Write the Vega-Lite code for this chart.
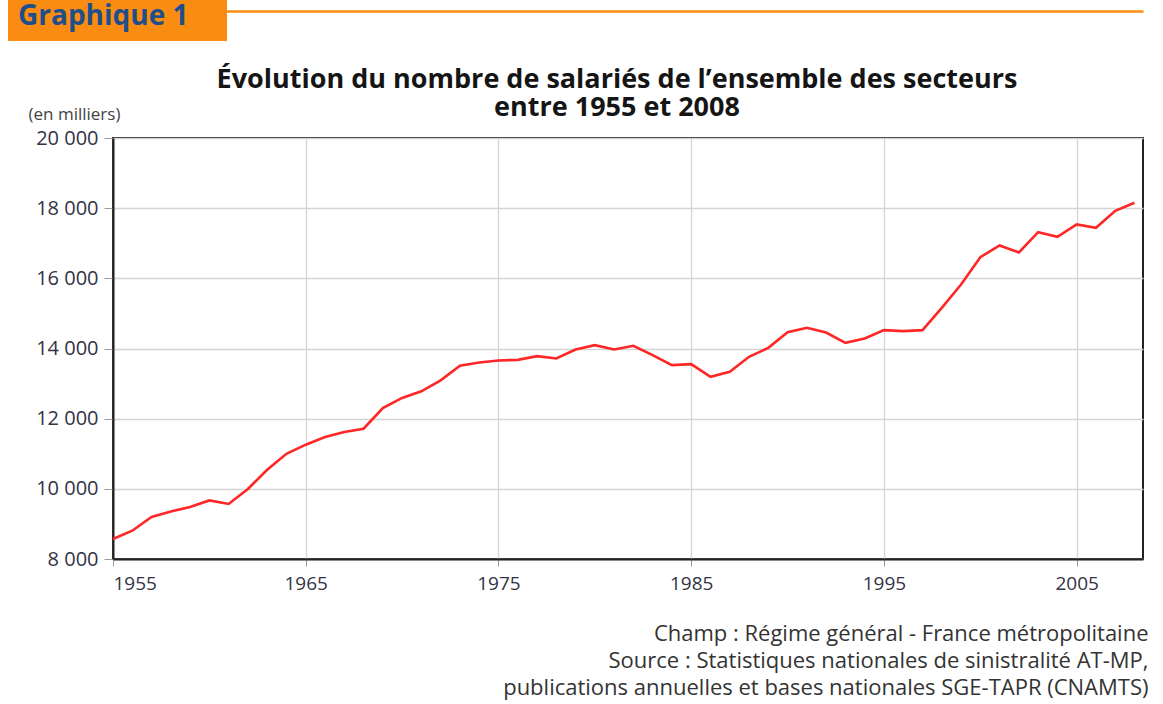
{
  "$schema": "https://vega.github.io/schema/vega-lite/v6.json",
  "width": 1030,
  "height": 421,
  "autosize": {"type": "none"},
  "padding": {"left": 113, "top": 138, "right": 20, "bottom": 145},
  "background": "white",
  "title": {
    "text": ["Évolution du nombre de salariés de l’ensemble des secteurs", "entre 1955 et 2008"],
    "anchor": "middle",
    "frame": "group",
    "font": "Open Sans",
    "fontSize": 27,
    "fontWeight": "bold",
    "color": "#151515",
    "lineHeight": 28,
    "dx": -11,
    "dy": 147
  },
  "data": {
    "values": [
      {"annee": 1955, "salaries": 8570},
      {"annee": 1956, "salaries": 8807},
      {"annee": 1957, "salaries": 9197},
      {"annee": 1958, "salaries": 9357},
      {"annee": 1959, "salaries": 9482},
      {"annee": 1960, "salaries": 9670},
      {"annee": 1961, "salaries": 9568},
      {"annee": 1962, "salaries": 9995},
      {"annee": 1963, "salaries": 10545},
      {"annee": 1964, "salaries": 11000},
      {"annee": 1965, "salaries": 11258},
      {"annee": 1966, "salaries": 11478},
      {"annee": 1967, "salaries": 11620},
      {"annee": 1968, "salaries": 11714},
      {"annee": 1969, "salaries": 12304},
      {"annee": 1970, "salaries": 12590},
      {"annee": 1971, "salaries": 12779},
      {"annee": 1972, "salaries": 13091},
      {"annee": 1973, "salaries": 13507},
      {"annee": 1974, "salaries": 13600},
      {"annee": 1975, "salaries": 13658},
      {"annee": 1976, "salaries": 13677},
      {"annee": 1977, "salaries": 13781},
      {"annee": 1978, "salaries": 13715},
      {"annee": 1979, "salaries": 13972},
      {"annee": 1980, "salaries": 14095},
      {"annee": 1981, "salaries": 13972},
      {"annee": 1982, "salaries": 14076},
      {"annee": 1983, "salaries": 13810},
      {"annee": 1984, "salaries": 13525},
      {"annee": 1985, "salaries": 13553},
      {"annee": 1986, "salaries": 13193},
      {"annee": 1987, "salaries": 13336},
      {"annee": 1988, "salaries": 13763},
      {"annee": 1989, "salaries": 14019},
      {"annee": 1990, "salaries": 14466},
      {"annee": 1991, "salaries": 14590},
      {"annee": 1992, "salaries": 14456},
      {"annee": 1993, "salaries": 14162},
      {"annee": 1994, "salaries": 14285},
      {"annee": 1995, "salaries": 14523},
      {"annee": 1996, "salaries": 14495},
      {"annee": 1997, "salaries": 14523},
      {"annee": 1998, "salaries": 15160},
      {"annee": 1999, "salaries": 15824},
      {"annee": 2000, "salaries": 16603},
      {"annee": 2001, "salaries": 16936},
      {"annee": 2002, "salaries": 16737},
      {"annee": 2003, "salaries": 17316},
      {"annee": 2004, "salaries": 17184},
      {"annee": 2005, "salaries": 17535},
      {"annee": 2006, "salaries": 17440},
      {"annee": 2007, "salaries": 17925},
      {"annee": 2008, "salaries": 18153}
    ]
  },
  "layer": [
    {
      "mark": {"type": "line", "strokeWidth": 2.6},
      "encoding": {
        "x": {
          "field": "annee",
          "type": "quantitative",
          "scale": {"domain": [1955, 2008.44], "nice": false, "zero": false},
          "axis": {
            "values": [1955, 1965, 1975, 1985, 1995, 2005],
            "format": "d",
            "grid": true,
            "gridColor": "#d4d4d4",
            "gridWidth": 1.3,
            "domain": true,
            "domainColor": "#222222",
            "domainWidth": 2,
            "tickColor": "#9a9a9a",
            "tickSize": 7,
            "labelPadding": 8,
            "labelFont": "Open Sans",
            "labelFontSize": 19,
            "labelColor": "#333344",
            "title": [
              "Champ : Régime général - France métropolitaine",
              "Source : Statistiques nationales de sinistralité AT-MP,",
              "publications annuelles et bases nationales SGE-TAPR (CNAMTS)"
            ],
            "titleX": 1035,
            "titleY": 81,
            "titleAlign": "right",
            "titleBaseline": "alphabetic",
            "titleFont": "Open Sans",
            "titleFontSize": 22,
            "titleFontWeight": "normal",
            "titleColor": "#333333",
            "titleLineHeight": 27
          }
        },
        "y": {
          "field": "salaries",
          "type": "quantitative",
          "scale": {"domain": [8000, 20000], "nice": false, "zero": false},
          "axis": {
            "values": [8000, 10000, 12000, 14000, 16000, 18000, 20000],
            "labelExpr": "replace(format(datum.value, ','), ',', ' ')",
            "grid": true,
            "gridColor": "#d4d4d4",
            "gridWidth": 1.3,
            "domain": true,
            "domainColor": "#222222",
            "domainWidth": 2,
            "tickColor": "#9a9a9a",
            "tickSize": 9,
            "labelPadding": 6,
            "labelFont": "Open Sans",
            "labelFontSize": 20,
            "labelColor": "#333344",
            "title": "(en milliers)",
            "titleAngle": 0,
            "titleX": -85,
            "titleY": -19,
            "titleAlign": "left",
            "titleBaseline": "alphabetic",
            "titleFont": "Open Sans",
            "titleFontSize": 17,
            "titleFontWeight": "normal",
            "titleColor": "#444444"
          }
        },
        "color": {
          "datum": "Graphique 1",
          "scale": {"range": ["#ff2626"]},
          "legend": {
            "title": "Graphique 1",
            "titleOrient": "left",
            "titleAlign": "left",
            "titleBaseline": "top",
            "titleFont": "Open Sans",
            "titleFontSize": 28,
            "titleFontWeight": "bold",
            "titleColor": "#1f4f8a",
            "titlePadding": 0,
            "titleLimit": 400,
            "orient": "none",
            "legendX": -105,
            "legendY": -159,
            "fillColor": "#fb8c12",
            "padding": 10,
            "symbolSize": 0,
            "symbolStrokeWidth": 0,
            "symbolOpacity": 0,
            "labelOffset": 0,
            "labelFontSize": 28,
            "labelExpr": "''"
          }
        }
      }
    },
    {
      "mark": {"type": "line", "strokeOpacity": 0},
      "encoding": {
        "x": {
          "field": "annee",
          "type": "quantitative",
          "axis": {
            "orient": "top",
            "domain": true,
            "domainColor": "#fb8c12",
            "domainWidth": 2.5,
            "ticks": false,
            "labels": false,
            "grid": false,
            "title": null,
            "offset": 127
          }
        },
        "y": {"field": "salaries", "type": "quantitative"}
      }
    }
  ],
  "resolve": {"axis": {"x": "independent"}},
  "config": {"view": {"stroke": "#222222", "strokeWidth": 2}}
}
